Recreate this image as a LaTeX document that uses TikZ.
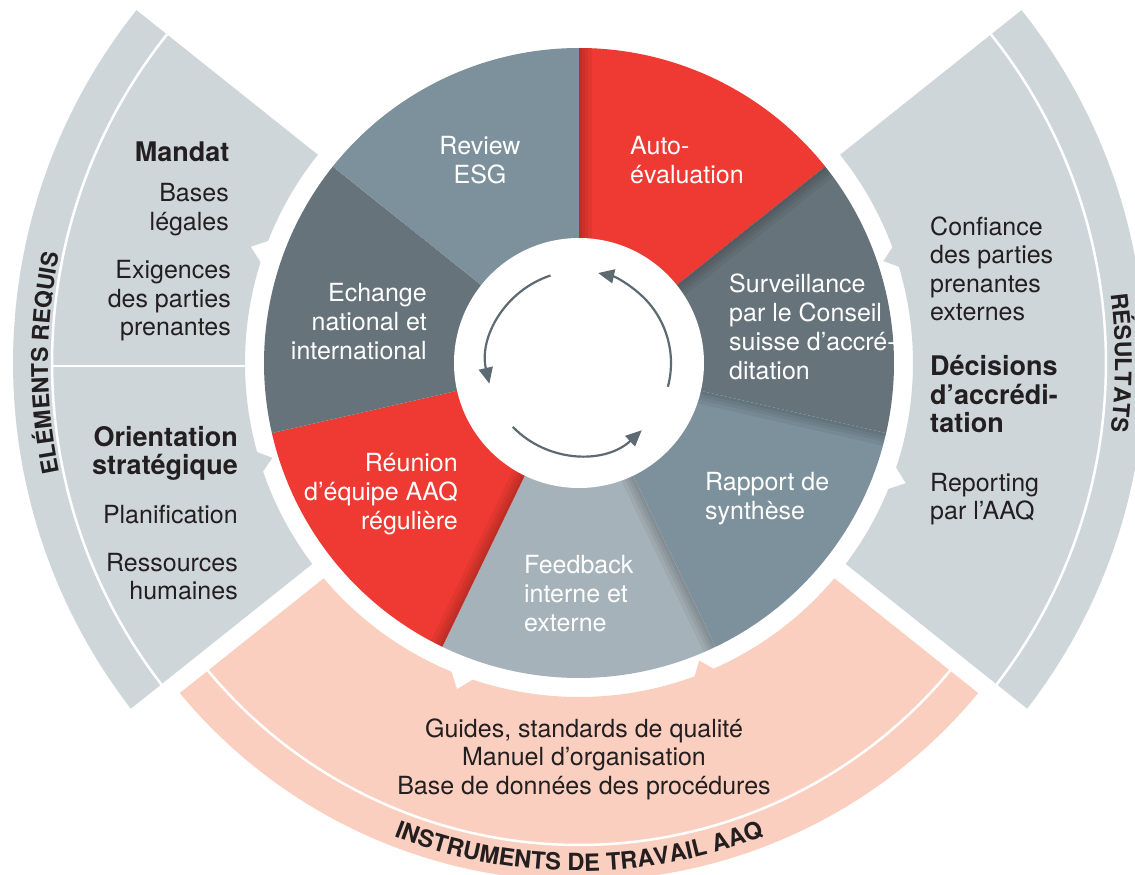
\documentclass[tikz,border=0pt]{standalone}
\usepackage{fontspec}
\setmainfont{TeX Gyre Heros}
\usepackage{xcolor}
\usepackage{tikz}
\usetikzlibrary{arrows.meta}
\usetikzlibrary{decorations.text}
\definecolor{aaqred}{HTML}{EE3A32}
\definecolor{aaqslate}{HTML}{7C919C}
\definecolor{aaqdark}{HTML}{67737A}
\definecolor{aaqlight}{HTML}{A6B2B9}
\definecolor{aaqband}{HTML}{CFD6DA}
\definecolor{aaqsalmon}{HTML}{FBCFBF}
\definecolor{aaqtext}{HTML}{231F20}
\definecolor{aaqarrow}{HTML}{5E6A71}
\tikzset{
  pie text/.style={text=white,inner sep=0pt,font=\fontsize{25}{29}\selectfont},
  band text/.style={text=aaqtext,inner sep=0pt,font=\fontsize{25}{28.5}\selectfont},
  band head/.style={text=aaqtext,inner sep=0pt,font=\bfseries\fontsize{27}{28.5}\selectfont},
  band line/.style={draw=white,line width=2.5pt},
  band gap/.style={draw=white,line width=18pt},
  seg shadow/.style={fill=black,fill opacity=0.05},
  cycle arrow/.style={draw=aaqarrow,line width=2.2pt,-{Triangle[length=16pt,width=14pt]}}
}

\begin{document}
\begin{tikzpicture}[x=1pt,y=1pt]
  \useasboundingbox[fill=white] (-579,-512) rectangle (556,363);
  % outer bands
  \fill[aaqband] (141.43:334) arc[start angle=141.43,end angle=218.57,radius=334pt]
    -- (218.57:566) arc[start angle=218.57,end angle=141.43,radius=566pt] -- cycle;
  \fill[aaqband] (-38.57:334) arc[start angle=-38.57,end angle=38.57,radius=334pt]
    -- (38.57:566) arc[start angle=38.57,end angle=-38.57,radius=566pt] -- cycle;
  \fill[aaqsalmon] (218.57:334) arc[start angle=218.57,end angle=321.43,radius=334pt]
    -- (321.43:518) arc[start angle=321.43,end angle=218.57,radius=518pt] -- cycle;
  \draw[band gap] (218.57:322) -- (218.57:600);
  \draw[band gap] (321.43:322) -- (321.43:600);
  \draw[band line] (141.43:527) arc[start angle=141.43,end angle=218.57,radius=527pt];
  \draw[band line] (-38.57:527) arc[start angle=-38.57,end angle=38.57,radius=527pt];
  \draw[band line] (218.57:482) arc[start angle=218.57,end angle=321.43,radius=482pt];
  \draw[band line] (-527,-3) -- (-330,-3);
  \foreach \a in {160.5,-20.2,-110.5}
    \fill[white] ({\a-2.2}:332) -- (\a:348) -- ({\a+2.2}:332) -- cycle;
  \foreach \a/\col in {197.2/aaqband,18.5/aaqband,-68/aaqsalmon}
    \fill[\col] ({\a-2}:336) -- (\a:321) -- ({\a+2}:336) -- cycle;
  % wheel
  \foreach \col [count=\i from 0] in {aaqred,aaqdark,aaqslate,aaqlight,aaqred,aaqdark,aaqslate}
    \fill[\col] (0,0) -- ({90-\i*360/7}:315)
      arc[start angle={90-\i*360/7},delta angle={-360/7},radius=315pt] -- cycle;
  \foreach \t in {90,38.57,-12.86,-64.29,-115.71}
    \foreach \w in {13,9,6,3}
      \fill[seg shadow,rotate=\t] (120,0) rectangle (314.7,-\w);
  \fill[white] (0,0) circle[radius=125pt];
  \draw[cycle arrow] (108:92) arc[start angle=108,end angle=193,radius=92pt];
  \draw[cycle arrow] (-15:92) arc[start angle=-15,end angle=78,radius=92pt];
  \draw[cycle arrow] (-136:92) arc[start angle=-136,end angle=-47,radius=92pt];
  % wheel texts
  \node[pie text,align=center,anchor=base] (review) at (-99,179) {Review\\ESG};
  \node[pie text,align=left,anchor=base west] (auto) at (51,179) {Auto-\\évaluation};
  \node[pie text,align=left,anchor=base west] (surv) at (150,-17) {Surveillance\\par le Conseil\\suisse d’accré-\\ditation};
  \node[pie text,align=left,anchor=base west] (rapport) at (126,-156) {Rapport de\\synthèse};
  \node[pie text,align=left,anchor=base west] (feedback) at (-55,-268) {Feedback\\interne et\\externe};
  \node[pie text,align=right,anchor=base east] (reunion) at (-121,-166) {Réunion\\d’équipe AAQ\\régulière};
  \node[pie text,align=right,anchor=base east] (echange) at (-152,3) {Echange\\national et\\international};
  % band texts
  \node[band head,anchor=base east] (mandat) at (-349.5,201) {Mandat};
  \node[band text,align=right,anchor=base east] (bases) at (-350,132.5) {Bases\\légales};
  \node[band text,align=right,anchor=base east] (exig) at (-348,27) {Exigences\\des parties\\prenantes};
  \node[band head,align=right,anchor=base east] (orient) at (-341,-111.5) {Orientation\\stratégique};
  \node[band text,anchor=base east] (planif) at (-341,-160) {Planification};
  \node[band text,align=right,anchor=base east] (ress) at (-341,-236.5) {Ressources\\humaines};
  \node[band text,align=left,anchor=base west] (confiance) at (351,42) {Confiance\\des parties\\prenantes\\externes};
  \node[band head,align=left,anchor=base west] (decisions) at (351,-70) {Décisions\\d’accrédi-\\tation};
  \node[band text,align=left,anchor=base west] (reporting) at (351,-156.5) {Reporting\\par l’AAQ};
  \node[band text,align=center,anchor=base] (guides) at (5,-431) {Guides, standards de qualité\\Manuel d’organisation\\Base de données des procédures};
  % band titles
  \path[decorate,decoration={text along path,text align=center,
    text={|\bfseries\fontsize{23}{23}\selectfont\color{aaqtext}|ELÉMENTS REQUIS}}]
    (195:531) arc[start angle=195,end angle=165,radius=531pt];
  \path[decorate,decoration={text along path,text align=center,
    text={|\bfseries\fontsize{23}{23}\selectfont\color{aaqtext}|RÉSULTATS}}]
    (15:536) arc[start angle=15,end angle=-15,radius=536pt];
  \path[decorate,decoration={text along path,text align=center,
    text={|\bfseries\fontsize{23.7}{23.7}\selectfont\color{aaqtext}|INSTRUMENTS DE TRAVAIL AAQ}}]
    (-118:508) arc[start angle=-118,end angle=-62,radius=508pt];
\end{tikzpicture}
\end{document}
